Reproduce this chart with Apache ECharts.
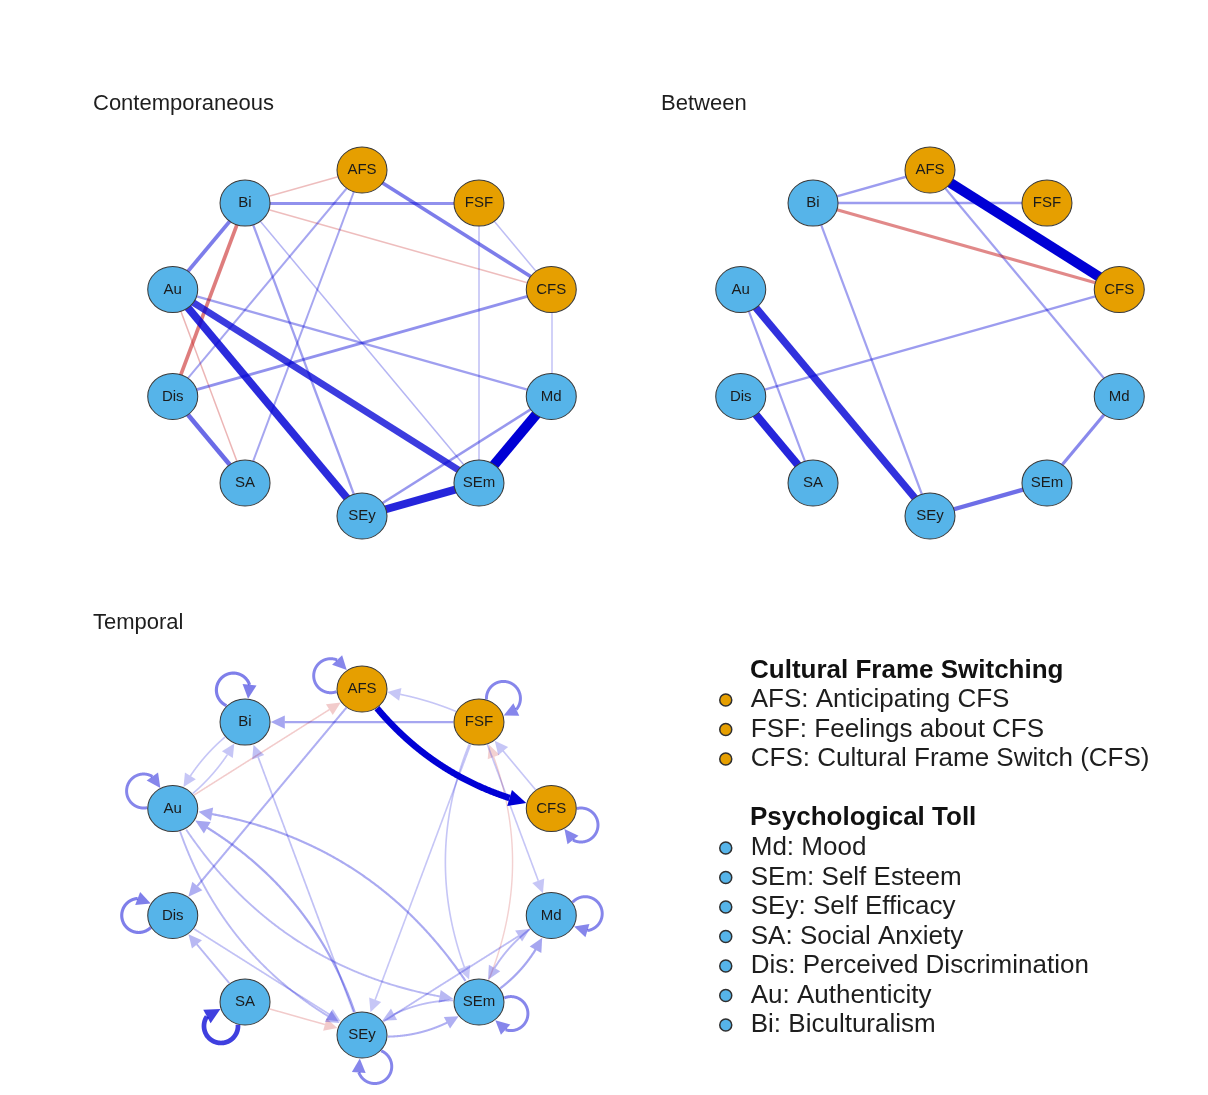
<!DOCTYPE html>
<html>
<head>
<meta charset="utf-8">
<title>Network models</title>
<script src="https://cdn.jsdelivr.net/npm/echarts@6/dist/echarts.min.js"></script>
<style>
  html, body { margin: 0; padding: 0; background: #ffffff; }
  #chart { width: 1208px; height: 1095px; }
</style>
</head>
<body>
<div id="chart"></div>
<script>
// ---- data ---------------------------------------------------------------
const nodes = ['AFS', 'FSF', 'CFS', 'Md', 'SEm', 'SEy', 'SA', 'Dis', 'Au', 'Bi'];
const nodeGroups = ['cfs', 'cfs', 'cfs', 'toll', 'toll', 'toll', 'toll', 'toll', 'toll', 'toll'];
const nodeDescriptions = [
  'AFS: Anticipating CFS',
  'FSF: Feelings about CFS',
  'CFS: Cultural Frame Switch (CFS)',
  'Md: Mood',
  'SEm: Self Esteem',
  'SEy: Self Efficacy',
  'SA: Social Anxiety',
  'Dis: Perceived Discrimination',
  'Au: Authenticity',
  'Bi: Biculturalism'
];
const groupTitles = ['Cultural Frame Switching', 'Psychological Toll'];
const panelTitles = ['Contemporaneous', 'Between', 'Temporal'];

// undirected partial correlations: [node, node, weight]
const contemporaneousEdges = [
  ['Md', 'SEm', 0.35],
  ['SEy', 'SEm', 0.28],
  ['Au', 'SEy', 0.27],
  ['Au', 'SEm', 0.24],
  ['Dis', 'SA', 0.16],
  ['AFS', 'CFS', 0.13],
  ['Bi', 'Au', 0.13],
  ['Bi', 'Dis', -0.13],
  ['Bi', 'FSF', 0.10],
  ['Dis', 'CFS', 0.10],
  ['SEy', 'Md', 0.09],
  ['Au', 'Md', 0.08],
  ['Bi', 'SEy', 0.08],
  ['AFS', 'Dis', 0.07],
  ['AFS', 'SA', 0.07],
  ['Bi', 'SEm', 0.05],
  ['FSF', 'CFS', 0.04],
  ['FSF', 'SEm', 0.04],
  ['CFS', 'Md', 0.035],
  ['AFS', 'Bi', -0.04],
  ['Bi', 'CFS', -0.04],
  ['Au', 'SA', -0.05]
];

const betweenEdges = [
  ['AFS', 'CFS', 0.50],
  ['Dis', 'SA', 0.40],
  ['Au', 'SEy', 0.37],
  ['SEy', 'SEm', 0.22],
  ['Md', 'SEm', 0.16],
  ['Bi', 'CFS', -0.16],
  ['Bi', 'AFS', 0.12],
  ['Bi', 'FSF', 0.12],
  ['Dis', 'CFS', 0.12],
  ['AFS', 'Md', 0.11],
  ['Bi', 'SEy', 0.11],
  ['Au', 'SA', 0.11]
];

// directed lagged effects: [from, to, weight]
const temporalEdges = [
  ['AFS', 'CFS', 0.30],
  ['SA', 'SA', 0.20],
  ['Bi', 'Bi', 0.11],
  ['AFS', 'AFS', 0.10],
  ['FSF', 'FSF', 0.10],
  ['CFS', 'CFS', 0.10],
  ['Md', 'Md', 0.10],
  ['SEm', 'SEm', 0.10],
  ['SEy', 'SEy', 0.10],
  ['Dis', 'Dis', 0.11],
  ['Au', 'Au', 0.10],
  ['FSF', 'Bi', 0.06],
  ['SEy', 'Au', 0.06],
  ['SEm', 'Au', 0.055],
  ['SEm', 'Md', 0.06],
  ['SEy', 'SEm', 0.05],
  ['AFS', 'Dis', 0.05],
  ['Au', 'SEm', 0.04],
  ['Au', 'SEy', 0.04],
  ['Md', 'SEm', 0.04],
  ['SEy', 'Md', 0.035],
  ['SEm', 'SEy', 0.035],
  ['SA', 'Dis', 0.04],
  ['Dis', 'SEy', 0.03],
  ['SEy', 'Bi', 0.03],
  ['FSF', 'SEy', 0.025],
  ['FSF', 'SEm', 0.025],
  ['FSF', 'Md', 0.025],
  ['FSF', 'AFS', 0.025],
  ['CFS', 'FSF', 0.025],
  ['Bi', 'Au', 0.025],
  ['Au', 'Bi', 0.025],
  ['Au', 'AFS', -0.02],
  ['SA', 'SEy', -0.02],
  ['SEm', 'FSF', -0.015]
];

// ---- styling ------------------------------------------------------------
const NODE_COLORS = { cfs: '#E69F00', toll: '#56B4E9' };
const POS_RGB = [0, 0, 213];
const NEG_RGB = [191, 0, 0];
const FONT = '"Liberation Sans", Arial, Helvetica, sans-serif';
const NODE_SIZE = [50, 46];
const NODE_RX = 25.5, NODE_RY = 23.5;

// bend of the directed arrows (same convention as ECharts curveness)
const TEMPORAL_BEND = {
  'AFS>CFS': -0.2, 'FSF>AFS': -0.1,
  'Bi>Au': -0.15, 'Au>Bi': -0.15,
  'SEy>Au': -0.22, 'Au>SEy': -0.22,
  'SEm>Au': -0.25, 'Au>SEm': -0.25,
  'FSF>SEm': -0.24, 'SEm>FSF': -0.24,
  'SEy>SEm': -0.22, 'SEm>SEy': -0.22,
  'SEm>Md': -0.2, 'Md>SEm': -0.2
};
// direction (screen degrees) in which each self-loop sits
const LOOP_ANGLE = {
  AFS: -157, FSF: -44, CFS: 29, Md: -3, SEm: 20,
  SEy: 68, SA: 135, Dis: 180, Au: -149, Bi: -110
};
const LOOP_DIST = 34, LOOP_R = 17;

// circle layout: first node on top, clockwise
function nodePos(k) {
  const a = 2 * Math.PI * k / nodes.length;
  return [Math.sin(a), Math.cos(a)];
}

function maxAbs(edges) { return Math.max.apply(null, edges.map(e => Math.abs(e[2]))); }
function ratioOf(w, max) { return Math.min(1, Math.abs(w) / max); }
function edgeColor(w, max) {
  const r = ratioOf(w, max);
  const alpha = Math.min(1, 0.1 + 0.9 * Math.pow(r, 0.8));
  const c = w >= 0 ? POS_RGB : NEG_RGB;
  return 'rgba(' + c.join(',') + ',' + alpha.toFixed(3) + ')';
}
function byStrength(edges) {
  return edges.slice().sort((a, b) => Math.abs(a[2]) - Math.abs(b[2]));
}

const categories = nodeDescriptions.map((d, i) => ({
  name: d,
  itemStyle: { color: NODE_COLORS[nodeGroups[i]], borderColor: '#3a3a3a', borderWidth: 1 }
}));

function graphSeries(panel, edges) {
  const max = edges.length ? maxAbs(edges) : 1;
  return {
    type: 'graph',
    coordinateSystem: 'cartesian2d',
    xAxisIndex: panel,
    yAxisIndex: panel,
    z: 3,
    silent: true,
    animation: false,
    symbol: 'circle',
    symbolSize: NODE_SIZE,
    categories: categories,
    itemStyle: { borderColor: '#3a3a3a', borderWidth: 1 },
    label: {
      show: true, position: 'inside', formatter: '{b}',
      fontSize: 15, color: '#1b1b1b', fontFamily: FONT
    },
    emphasis: { disabled: true },
    data: nodes.map((n, i) => ({ name: n, value: nodePos(i), category: i })),
    links: byStrength(edges).map(e => ({
      source: e[0],
      target: e[1],
      lineStyle: {
        color: edgeColor(e[2], max),
        width: Math.max(1.5, 10 * ratioOf(e[2], max)),
        opacity: 1,
        curveness: 0
      }
    }))
  };
}

// ---- directed edges and self-loops for the temporal network --------------
const temporalMax = maxAbs(temporalEdges);

function insideNode(p, c) {
  const dx = (p[0] - c[0]) / NODE_RX, dy = (p[1] - c[1]) / NODE_RY;
  return dx * dx + dy * dy < 1;
}

function visibleRun(samples, ca, cb) {
  let i0 = 0;
  while (i0 < samples.length - 1 && insideNode(samples[i0], ca)) i0++;
  let i1 = samples.length - 1;
  while (i1 > i0 && insideNode(samples[i1], cb)) i1--;
  return samples.slice(i0, i1 + 1);
}

function renderTemporalEdge(params, api) {
  const a = api.value(0), b = api.value(1), w = api.value(2);
  const pa = api.coord(nodePos(a));
  const pb = api.coord(nodePos(b));
  const r = ratioOf(w, temporalMax);
  const width = 1.2 + 5.3 * r;
  const color = edgeColor(w, temporalMax);
  const headLen = 11.5 + 0.9 * width;
  const headWid = 11.5 + 0.8 * width;

  const samples = [];
  const N = 400;
  if (a === b) {
    const phi = LOOP_ANGLE[nodes[a]] * Math.PI / 180;
    const o = [pa[0] + LOOP_DIST * Math.cos(phi), pa[1] + LOOP_DIST * Math.sin(phi)];
    for (let i = 0; i <= N; i++) {
      const psi = phi + Math.PI + 2 * Math.PI * i / N;
      samples.push([o[0] + LOOP_R * Math.cos(psi), o[1] + LOOP_R * Math.sin(psi)]);
    }
  } else {
    const c = TEMPORAL_BEND[nodes[a] + '>' + nodes[b]] || 0;
    const dx = pb[0] - pa[0], dy = pb[1] - pa[1];
    const q = [(pa[0] + pb[0]) / 2 + c * dy, (pa[1] + pb[1]) / 2 - c * dx];
    for (let i = 0; i <= N; i++) {
      const t = i / N, u = 1 - t;
      samples.push([
        u * u * pa[0] + 2 * u * t * q[0] + t * t * pb[0],
        u * u * pa[1] + 2 * u * t * q[1] + t * t * pb[1]
      ]);
    }
  }

  const run = visibleRun(samples, pa, pb);
  const tip = run[run.length - 1];
  let j = run.length - 1, acc = 0;
  while (j > 0 && acc < headLen) {
    acc += Math.hypot(run[j][0] - run[j - 1][0], run[j][1] - run[j - 1][1]);
    j--;
  }
  const base = run[j];
  const line = run.slice(0, j + 1);
  let ux = tip[0] - base[0], uy = tip[1] - base[1];
  const len = Math.hypot(ux, uy) || 1;
  ux /= len; uy /= len;
  const nx = -uy * headWid / 2, ny = ux * headWid / 2;

  return {
    type: 'group',
    children: [
      {
        type: 'polyline',
        shape: { points: line },
        style: { stroke: color, lineWidth: width, fill: null, lineJoin: 'round' }
      },
      {
        type: 'polygon',
        shape: { points: [tip, [base[0] + nx, base[1] + ny], [base[0] - nx, base[1] - ny]] },
        style: { fill: color, stroke: null }
      }
    ]
  };
}

// ---- panels -------------------------------------------------------------
const grids = [
  { left: 163, top: 170, width: 398, height: 346 },
  { left: 731, top: 170, width: 398, height: 346 },
  { left: 163, top: 689, width: 398, height: 346 }
];

const titleStyle = { fontSize: 22, lineHeight: 22, fontWeight: 'normal', color: '#1e1e1e', fontFamily: FONT };
const headStyle = { fontSize: 26, lineHeight: 26, fontWeight: 'bold', color: '#111111', fontFamily: FONT };
const legendText = { fontSize: 26, lineHeight: 29.5, color: '#1e1e1e', fontFamily: FONT };

function legendFor(group, top) {
  return {
    data: nodeDescriptions.filter((d, i) => nodeGroups[i] === group),
    orient: 'vertical',
    left: 719,
    top: top,
    padding: 0,
    itemGap: 0,
    icon: 'circle',
    itemWidth: 40,
    itemHeight: 12,
    selectedMode: false,
    itemStyle: { borderColor: '#2f2f2f', borderWidth: 1.5 },
    textStyle: legendText
  };
}

const option = {
  backgroundColor: '#ffffff',
  animation: false,
  title: [
    { text: panelTitles[0], left: 93, top: 93, padding: 0, textStyle: titleStyle },
    { text: panelTitles[1], left: 661, top: 93, padding: 0, textStyle: titleStyle },
    { text: panelTitles[2], left: 93, top: 612, padding: 0, textStyle: titleStyle },
    { text: groupTitles[0], left: 750, top: 658, padding: 0, textStyle: headStyle },
    { text: groupTitles[1], left: 750, top: 805, padding: 0, textStyle: headStyle }
  ],
  legend: [legendFor('cfs', 685.25), legendFor('toll', 833.25)],
  grid: grids,
  xAxis: grids.map((g, i) => ({ type: 'value', gridIndex: i, min: -1, max: 1, show: false })),
  yAxis: grids.map((g, i) => ({ type: 'value', gridIndex: i, min: -1, max: 1, show: false })),
  series: [
    graphSeries(0, contemporaneousEdges),
    graphSeries(1, betweenEdges),
    {
      type: 'custom',
      coordinateSystem: 'cartesian2d',
      xAxisIndex: 2,
      yAxisIndex: 2,
      z: 2,
      silent: true,
      animation: false,
      clip: false,
      data: byStrength(temporalEdges).map(e => [nodes.indexOf(e[0]), nodes.indexOf(e[1]), e[2]]),
      renderItem: renderTemporalEdge
    },
    graphSeries(2, [])
  ]
};

const chart = echarts.init(document.getElementById('chart'), null, { renderer: 'canvas' });
chart.setOption(option);
</script>
</body>
</html>
